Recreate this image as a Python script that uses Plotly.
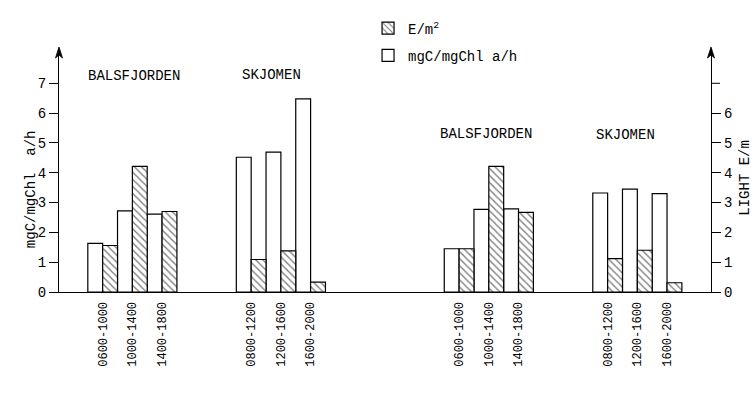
import plotly.graph_objects as go

# Sampling periods (tick labels) and their slot positions along the x axis
periods = ["0600-1000", "1000-1400", "1400-1800",
           "0800-1200", "1200-1600", "1600-2000",
           "0600-1000", "1000-1400", "1400-1800",
           "0800-1200", "1200-1600", "1600-2000"]
slots = [0, 1, 2, 5, 6, 7, 12, 13, 14, 17, 18, 19]

# Assimilation number, mgC/mgChl a/h (open bars, left axis)
production = [1.63, 2.72, 2.61,
              4.52, 4.69, 6.48,
              1.45, 2.77, 2.79,
              3.32, 3.45, 3.30]

# Light, E/m2 (hatched bars, right axis)
light = [1.56, 4.21, 2.70,
         1.09, 1.38, 0.33,
         1.45, 4.21, 2.67,
         1.12, 1.40, 0.31]

# Axis ticks
left_ticks = [0, 1, 2, 3, 4, 5, 6, 7]
right_ticks = [0, 1, 2, 3, 4, 5, 6]
right_extra_tick = 7

# Station names and method labels
stations = ["BALSFJORDEN", "SKJOMEN", "BALSFJORDEN", "SKJOMEN"]
station_pos = [(1.06, 7.23), (5.67, 7.28), (12.92, 5.30), (17.6, 5.26)]
methods = ["INKUBATOR", '"IN SITU"']
method_pos = [4.0, 15.0]

FONT = "Liberation Mono"
YMAX = 8.15

fig = go.Figure()

fig.add_trace(go.Bar(
    x=slots, y=light, yaxis="y2",
    width=0.5, offset=0,
    name="E/m<sup>2</sup>", legendrank=1, legendgroup="a",
    marker=dict(color="white", line=dict(color="black", width=1.2),
                pattern=dict(shape="\\", fgcolor="black", bgcolor="white",
                             size=5, solidity=0.28)),
))
fig.add_trace(go.Bar(
    x=slots, y=production,
    width=0.5, offset=-0.5,
    name="mgC/mgChl a/h", legendrank=2, legendgroup="b",
    marker=dict(color="white", line=dict(color="black", width=1.2)),
))

annotations = []
for name, (sx, sy) in zip(stations, station_pos):
    annotations.append(dict(x=sx, y=sy, xref="x", yref="y", text=name,
                            showarrow=False, font=dict(family=FONT, size=14)))
for name, mx in zip(methods, method_pos):
    annotations.append(dict(x=mx, y=-3.42, xref="x", yref="y", text=name,
                            showarrow=False, font=dict(family=FONT, size=14)))

# Axis titles
annotations.append(dict(x=-0.058, y=0.424, xref="paper", yref="paper",
                        text="mgC/mgChl  a/h", textangle=-90, showarrow=False,
                        font=dict(family=FONT, size=14)))
annotations.append(dict(x=1.067, y=0.469, xref="paper", yref="paper",
                        text="LIGHT E/m", textangle=-90, showarrow=False,
                        font=dict(family=FONT, size=14)))

shapes = []
# Arrowheads on top of both vertical axes
for ax_x in (0, 1):
    shapes.append(dict(type="path", xref="paper", yref="paper",
                       xsizemode="pixel", ysizemode="pixel",
                       xanchor=ax_x, yanchor=1,
                       path="M -3.5 -9 L 0 2 L 3.5 -9 L 0 -6 Z",
                       fillcolor="black", line=dict(color="black", width=0.8)))
# Unlabelled top tick on the light axis
shapes.append(dict(type="line", xref="paper", yref="y2",
                   xsizemode="pixel", xanchor=1, x0=0, x1=9,
                   y0=right_extra_tick, y1=right_extra_tick,
                   line=dict(color="black", width=1)))

fig.update_layout(
    width=755, height=404,
    margin=dict(l=59, r=44, t=48.6, b=111.5),
    paper_bgcolor="white", plot_bgcolor="white",
    font=dict(family=FONT, size=12, color="black"),
    barmode="overlay",
    showlegend=True,
    legend=dict(x=0.474, y=1.15, xanchor="left", yanchor="top",
                traceorder="grouped", tracegroupgap=6,
                font=dict(family=FONT, size=14),
                bgcolor="rgba(0,0,0,0)"),
    xaxis=dict(range=[-1.47, 20.48], tickvals=slots, ticktext=periods,
               tickangle=-90, ticks="outside", ticklen=4, tickcolor="white",
               tickfont=dict(family=FONT, size=12),
               showline=True, linecolor="black", linewidth=1.3,
               showgrid=False, zeroline=False),
    yaxis=dict(range=[0, YMAX], tickvals=left_ticks,
               ticks="outside", ticklen=9, tickcolor="black",
               tickfont=dict(family=FONT, size=14),
               showline=True, linecolor="black", linewidth=1.3,
               showgrid=False, zeroline=False),
    yaxis2=dict(range=[0, YMAX], overlaying="y", side="right",
                tickvals=right_ticks,
                ticks="outside", ticklen=9, tickcolor="black",
                tickfont=dict(family=FONT, size=14),
                showline=True, linecolor="black", linewidth=1.3,
                showgrid=False, zeroline=False),
    annotations=annotations,
    shapes=shapes,
)

fig.write_html("out.html")
